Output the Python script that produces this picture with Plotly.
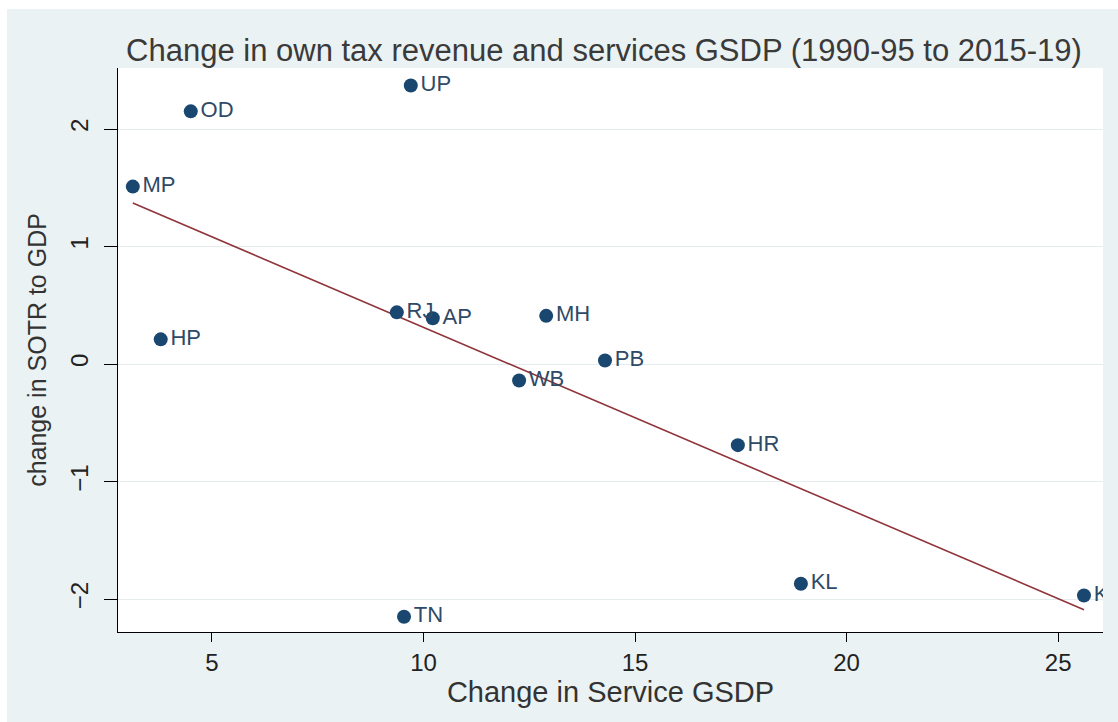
import plotly.graph_objects as go

states = ["UP", "OD", "MP", "HP", "RJ", "AP", "MH", "PB", "WB", "HR", "KL", "TN", "KP"]
service_gsdp = [9.70, 4.50, 3.13, 3.79, 9.37, 10.22, 12.90, 14.29, 12.26, 17.43, 18.92, 9.54, 25.61]
sotr_change = [2.37, 2.15, 1.51, 0.21, 0.44, 0.39, 0.41, 0.03, -0.14, -0.69, -1.87, -2.15, -1.97]
fit_x = [3.13, 25.61]
fit_y = [1.37, -2.09]
x_ticks = [5, 10, 15, 20, 25]
y_ticks = [-2, -1, 0, 1, 2]

FONT = "Liberation Sans Narrow, Arial Narrow, Liberation Sans, Arial, sans-serif"
NAVY = "#1a476f"

L, R, T, B = 118, 15, 68, 90
PH = 722 - T - B
PW = 1118 - L - R

fig = go.Figure()
fig.add_trace(go.Scatter(
    x=fit_x, y=fit_y, mode="lines",
    line=dict(color="#90353b", width=1.6), hoverinfo="skip", showlegend=False))
fig.add_trace(go.Scatter(
    x=service_gsdp, y=sotr_change, mode="markers+text", text=states,
    textposition="middle right",
    textfont=dict(family=FONT, size=22, color="#2f4a66"),
    marker=dict(color=NAVY, size=14), showlegend=False))

fig.update_layout(
    width=1118, height=722,
    margin=dict(l=L, r=R, t=T, b=B),
    paper_bgcolor="white", plot_bgcolor="white",
    font=dict(family=FONT, color="#333333"),
    title=dict(text="Change in own tax revenue and services GSDP (1990-95 to 2015-19)",
               x=(604 - L) / PW, xref="paper", xanchor="center",
               y=1 - 50 / 722, yanchor="middle",
               font=dict(family=FONT, size=31, color="#3a3a3a")),
    shapes=[dict(type="rect", xref="paper", yref="paper", layer="below",
                 x0=-(L - 7) / PW, x1=1.1, y0=-0.3, y1=1 + (T - 9) / PH,
                 fillcolor="#eaf2f3", line=dict(width=0)),
            dict(type="rect", xref="paper", yref="paper", layer="below",
                 x0=0, x1=1, y0=0, y1=1, fillcolor="white", line=dict(width=0))],
    xaxis=dict(range=[2.78, 26.06], tickvals=x_ticks, showgrid=False, zeroline=False,
               showline=True, linecolor="black", linewidth=1,
               ticks="outside", ticklen=9, tickcolor="black",
               tickfont=dict(family=FONT, size=24, color="#222222"),
               title=dict(text="Change in Service GSDP", standoff=3,
                          font=dict(family=FONT, size=29, color="#333333"))),
    yaxis=dict(range=[-2.28, 2.519], tickvals=y_ticks, tickangle=-90,
               showgrid=True, gridcolor="#e4ecee", gridwidth=1, zeroline=False,
               showline=True, linecolor="black", linewidth=1,
               ticks="outside", ticklen=13, tickcolor="black", ticklabelstandoff=6,
               tickfont=dict(family=FONT, size=24, color="#222222"),
               title=dict(text="change in SOTR to GDP", standoff=12,
                          font=dict(family=FONT, size=25, color="#333333"))),
)

fig.write_html("out.html")
